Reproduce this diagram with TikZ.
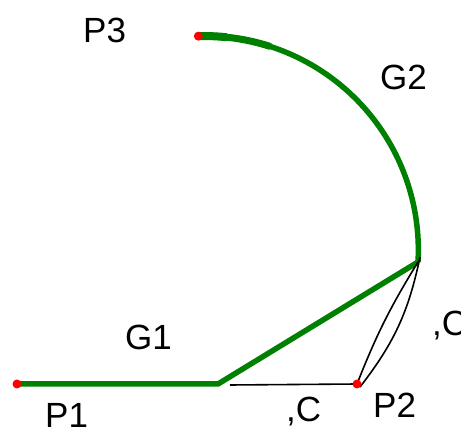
\documentclass[tikz,border=0pt]{standalone}
\usepackage{fontspec}
\setmainfont{Liberation Sans}
\definecolor{gline}{RGB}{0,128,0}
\definecolor{rdot}{RGB}{255,0,0}
\begin{document}
\begin{tikzpicture}[x=1pt,y=-1pt,
  gpath/.style={draw=gline,line width=5.5pt,line cap=butt,line join=round},
  bpath/.style={draw=black,line width=1.6pt},
  pdot/.style={circle,fill=rdot,inner sep=0pt,minimum size=9pt},
  lbl/.style={anchor=base west,inner sep=0pt,font=\fontsize{35}{35}\selectfont}]
\useasboundingbox (0,0) rectangle (461,430);
\coordinate (K) at (218,384);
\coordinate (J) at (418,262);
\coordinate (Kb) at (230,385);
% green path
\draw[gpath] (17,384) coordinate (P1c) -- (K) -- (J);
\draw[gpath] (J) arc[start angle=3.2,end angle=-91.6,radius=214] coordinate (P3c);
\draw[draw=gline,line width=8pt] (P3c) arc[start angle=-91.6,end angle=-84,radius=214];
\draw[draw=gline,line width=7pt] (P3c) arc[start angle=-91.6,end angle=-72,radius=214];
% black lines
\draw[bpath] (Kb) -- (357,384) coordinate (P2c);
\draw[bpath] (P2c) to[bend left=5] (J);
\draw[bpath] ([xshift=3pt,yshift=-3pt]P2c) to[bend right=13] ([xshift=2pt,yshift=5pt]J);
% points
\node[pdot] (P1) at (P1c) {};
\node[pdot] (P2) at (P2c) {};
\node[pdot] (P3) at (P3c) {};
% labels
\node[lbl] (tP3) at (83,43) {P3};
\node[lbl] (tG2) at (380,90) {G2};
\node[lbl] (tG1) at (125,350) {G1};
\node[lbl] (tP1) at (45,428) {P1};
\node[lbl] (tP2) at (373,418) {P2};
\node[lbl] (tC1) at (286,422) {,C};
\node[lbl] (tC2) at (432,336) {,C};
\end{tikzpicture}
\end{document}
